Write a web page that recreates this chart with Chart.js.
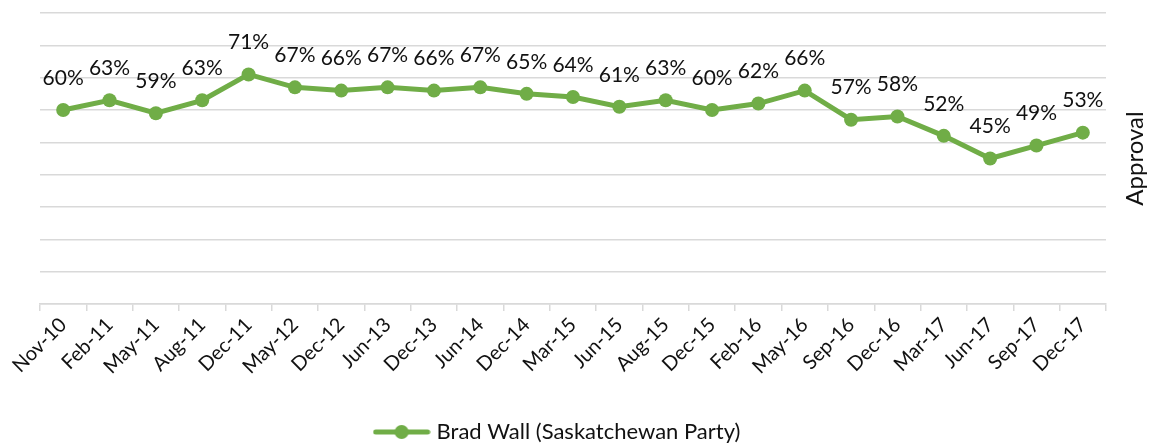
<!DOCTYPE html>
<html>
<head>
<meta charset="utf-8">
<script src="https://cdn.jsdelivr.net/npm/chart.js@4.4.1/dist/chart.umd.min.js"></script>
<style>
  html, body { margin: 0; padding: 0; background: #fff; }
  #wrap { width: 1151px; height: 443px; position: relative; }
</style>
</head>
<body>
<div id="wrap"><canvas id="c" width="1151" height="443"></canvas></div>
<script>
const categories = ["Nov-10","Feb-11","May-11","Aug-11","Dec-11","May-12","Dec-12","Jun-13","Dec-13","Jun-14","Dec-14","Mar-15","Jun-15","Aug-15","Dec-15","Feb-16","May-16","Sep-16","Dec-16","Mar-17","Jun-17","Sep-17","Dec-17"];
const approval = [60,63,59,63,71,67,66,67,66,67,65,64,61,63,60,62,66,57,58,52,45,49,53];
const seriesName = "Brad Wall (Saskatchewan Party)";
const axisTitle = "Approval";
const yTicks = { min: 0, max: 90, step: 10 };

const GREEN = "#70AD47";
const FONT = "Lato, 'Open Sans', sans-serif";
const TEXT = "#111111";

// legend marker: line with a dot
const marker = document.createElement('canvas');
marker.width = 58; marker.height = 16;
(function(){
  const m = marker.getContext('2d');
  m.strokeStyle = GREEN; m.lineWidth = 5; m.lineCap = 'round';
  m.beginPath(); m.moveTo(3, 8); m.lineTo(55, 8); m.stroke();
  m.fillStyle = GREEN; m.beginPath(); m.arc(29, 8, 7, 0, Math.PI*2); m.fill();
})();

const dataLabels = {
  id: 'dataLabels',
  afterDatasetsDraw(chart) {
    const ctx = chart.ctx;
    ctx.save();
    ctx.font = "21px " + FONT;
    ctx.fillStyle = TEXT;
    ctx.textAlign = 'center';
    ctx.textBaseline = 'middle';
    chart.data.datasets.forEach((ds, i) => {
      const meta = chart.getDatasetMeta(i);
      meta.data.forEach((pt, j) => {
        ctx.fillText(ds.data[j] + '%', pt.x, pt.y - 32);
      });
    });
    // right axis title, reading bottom to top
    const ca = chart.chartArea;
    ctx.translate(ca.right + 29, (ca.top + ca.bottom) / 2);
    ctx.rotate(-Math.PI / 2);
    ctx.font = "24px " + FONT;
    ctx.fillText(axisTitle, 0, 0);
    ctx.restore();
  }
};

new Chart(document.getElementById('c'), {
  type: 'line',
  data: {
    labels: categories,
    datasets: [{
      label: seriesName,
      data: approval,
      borderColor: GREEN,
      backgroundColor: GREEN,
      borderWidth: 5,
      pointRadius: 7,
      pointHoverRadius: 7,
      pointBackgroundColor: GREEN,
      pointBorderColor: GREEN,
      pointBorderWidth: 0,
      tension: 0,
      yAxisID: 'y'
    }]
  },
  options: {
    responsive: false,
    animation: false,
    devicePixelRatio: 1,
    layout: { padding: { left: 0, right: 33, top: 13, bottom: -10 } },
    plugins: {
      tooltip: { enabled: false },
      legend: {
        position: 'bottom',
        labels: {
          font: { size: 22, family: FONT },
          color: TEXT,
          usePointStyle: true,
          pointStyleWidth: 48,
          padding: 0,
          generateLabels(chart) {
            return [{
              text: seriesName,
              pointStyle: marker,
              fillStyle: GREEN,
              strokeStyle: GREEN,
              lineWidth: 0,
              hidden: false,
              datasetIndex: 0,
              fontColor: TEXT
            }];
          }
        }
      }
    },
    scales: {
      x: {
        offset: true,
        afterFit(scale) { scale.height = 117; },
        grid: {
          offset: true,
          drawOnChartArea: false,
          drawTicks: true,
          tickLength: 7,
          color: '#d9d9d9',
          lineWidth: 1.5
        },
        border: { display: true, color: '#d9d9d9', width: 1.5 },
        ticks: {
          autoSkip: false,
          maxRotation: 45,
          minRotation: 45,
          color: TEXT,
          font: { size: 20, family: FONT },
          padding: 2
        }
      },
      yl: {
        position: 'left',
        min: yTicks.min,
        max: yTicks.max,
        afterFit(scale) { scale.width = 40; },
        ticks: { display: false },
        grid: { display: false, drawTicks: false },
        border: { display: false }
      },
      y: {
        position: 'right',
        min: yTicks.min,
        max: yTicks.max,
        afterFit(scale) { scale.width = 12; },
        ticks: { display: false, stepSize: yTicks.step },
        grid: { color: '#d9d9d9', lineWidth: 1.5, drawTicks: false },
        border: { display: false },
        title: { display: false }
      }
    }
  },
  plugins: [dataLabels]
});
</script>
</body>
</html>
